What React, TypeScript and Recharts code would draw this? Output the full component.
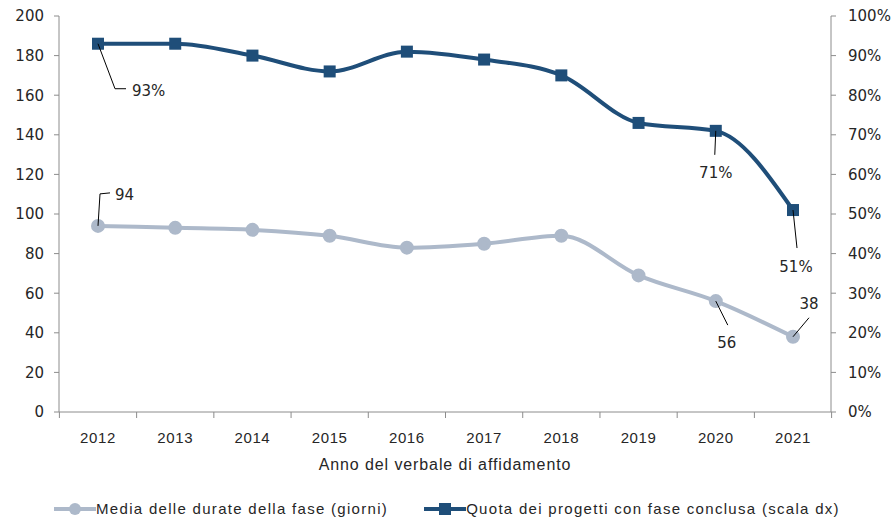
import React from 'react';
import { LineChart, Line, XAxis, YAxis } from 'recharts';

const years = ['2012', '2013', '2014', '2015', '2016', '2017', '2018', '2019', '2020', '2021'];
const durataMedia = [94, 93, 92, 89, 83, 85, 89, 69, 56, 38];
const quotaConclusa = [93, 93, 90, 86, 91, 89, 85, 73, 71, 51];
const leftTicks = [0, 20, 40, 60, 80, 100, 120, 140, 160, 180, 200];
const rightTicks = [0, 10, 20, 30, 40, 50, 60, 70, 80, 90, 100];
const durataLabelled = [0, 8, 9];
const quotaLabelled = [0, 8, 9];

const NAVY = '#1f4e79';
const GREY = '#adb9ca';
const AXIS = '#8c8c8c';
const TEXT = '#262626';

const data = years.map((y, i) => ({ year: y, durata: durataMedia[i], quota: quotaConclusa[i] }));

// leader line offsets for the callouts: [dx1, dy1, dx2, dy2, textX, textY, anchor]
const durataCallout: Record<number, [number, number, number, number, number, number, string]> = {
  0: [2, -32, 12, -33, 17, -26, 'start'],
  8: [12, 24, 0, 0, 11, 47, 'middle'],
  9: [16, -19, 0, 0, 16, -28, 'middle'],
};
const quotaCallout: Record<number, [number, number, number, number, number, number, string]> = {
  0: [17, 45, 28, 45, 34, 52, 'start'],
  8: [-1, 24, 0, 0, 0, 47, 'middle'],
  9: [4, 38, 0, 0, 3, 62, 'middle'],
};

const makeLabel = (which: number[], cfg: typeof durataCallout, fmt: (v: number) => string) => (props: any) => {
  const { x, y, index, value } = props;
  if (!which.includes(index)) return null;
  const [dx1, dy1, dx2, dy2, tx, ty, anchor] = cfg[index];
  return (
    <g key={`lbl-${index}`}>
      <line x1={x} y1={y} x2={x + dx1} y2={y + dy1} stroke="#000" strokeWidth={1} />
      {dx2 !== 0 && <line x1={x + dx1} y1={y + dy1} x2={x + dx2} y2={y + dy2} stroke="#000" strokeWidth={1} />}
      <text x={x + tx} y={y + ty} textAnchor={anchor as any} fontSize={15} fill={TEXT} fontFamily="DejaVu Sans">
        {fmt(value)}
      </text>
    </g>
  );
};

const YearTick = (props: any) => {
  const { x, y, payload, index } = props;
  const half = 38.6;
  return (
    <g>
      <line x1={x - half} y1={y - 8} x2={x - half} y2={y - 2} stroke={AXIS} />
      {index === years.length - 1 && <line x1={x + half} y1={y - 8} x2={x + half} y2={y - 2} stroke={AXIS} />}
      <text x={x} y={y + 23} textAnchor="middle" fontSize={15} fill={TEXT} fontFamily="Liberation Sans" letterSpacing={0.6}>
        {payload.value}
      </text>
    </g>
  );
};

const LegendItem = ({ color, square, label }: { color: string; square: boolean; label: string }) => (
  <div style={{ display: 'flex', alignItems: 'center', gap: 0 }}>
    <svg width={42} height={14}>
      <line x1={0} y1={7} x2={42} y2={7} stroke={color} strokeWidth={4} />
      {square ? <rect x={15} y={1} width={12} height={12} fill={color} /> : <circle cx={21} cy={7} r={6} fill={color} />}
    </svg>
    <span>{label}</span>
  </div>
);

const App: React.FC = () => {
  return (
    <div style={{ position: 'absolute', left: 0, top: 0, width: 894, height: 518, background: '#fff' }}>
      <LineChart width={894} height={518} data={data} margin={{ top: 16, right: 0, bottom: 46, left: 0 }}>
        <XAxis
          dataKey="year"
          height={60}
          stroke={AXIS}
          tickLine={false}
          tick={<YearTick />}
          interval={0}
          padding={{ left: 39, right: 38 }}
          label={{ value: 'Anno del verbale di affidamento', position: 'insideBottom', offset: 2, fill: TEXT, fontSize: 16, fontFamily: 'Liberation Sans', letterSpacing: 0.9 }}
        />
        <YAxis
          yAxisId="left"
          width={59}
          domain={[0, 200]}
          ticks={leftTicks}
          interval={0}
          stroke={AXIS}
          tickSize={5}
          tickMargin={10}
          tick={{ fill: TEXT, fontSize: 15, fontFamily: 'DejaVu Sans' }}
        />
        <YAxis
          yAxisId="right"
          orientation="right"
          width={63}
          domain={[0, 100]}
          ticks={rightTicks}
          interval={0}
          stroke={AXIS}
          tickSize={5}
          tickMargin={12}
          tickFormatter={(v: number) => `${v}%`}
          tick={{ fill: TEXT, fontSize: 15, fontFamily: 'DejaVu Sans', textAnchor: 'start' }}
        />
        <Line
          yAxisId="left"
          type="monotone"
          dataKey="durata"
          stroke={GREY}
          strokeWidth={4}
          dot={{ r: 5, fill: GREY, stroke: GREY }}
          isAnimationActive={false}
          label={makeLabel(durataLabelled, durataCallout, (v) => `${v}`)}
        />
        <Line
          yAxisId="right"
          type="monotone"
          dataKey="quota"
          stroke={NAVY}
          strokeWidth={4}
          dot={(p: any) => <rect key={`sq-${p.index}`} x={p.cx - 6} y={p.cy - 6} width={12} height={12} fill={NAVY} />}
          isAnimationActive={false}
          label={makeLabel(quotaLabelled, quotaCallout, (v) => `${v}%`)}
        />
      </LineChart>
      <div
        style={{
          position: 'absolute',
          top: 500,
          left: 0,
          width: 894,
          display: 'flex',
          justifyContent: 'center',
          gap: 36,
          fontFamily: 'Liberation Sans',
          fontSize: 15,
          letterSpacing: 1.3,
          color: TEXT,
        }}
      >
        <LegendItem color={GREY} square={false} label="Media delle durate della fase (giorni)" />
        <LegendItem color={NAVY} square={true} label="Quota dei progetti con fase conclusa (scala dx)" />
      </div>
    </div>
  );
};

export default App;
